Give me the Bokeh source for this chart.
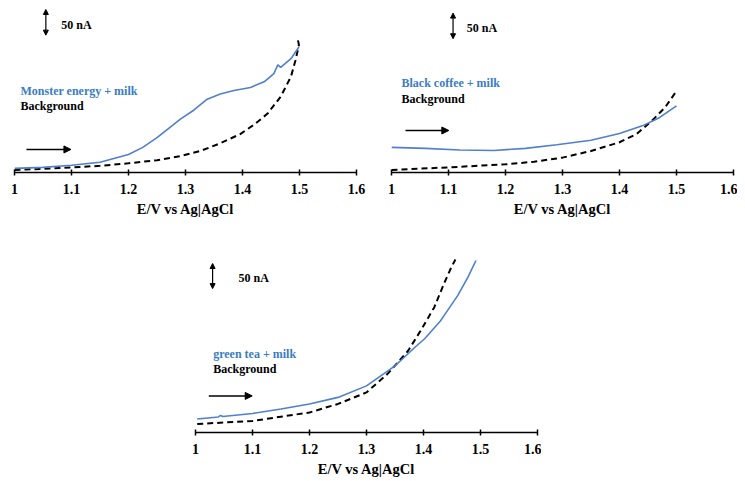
from bokeh.plotting import figure
from bokeh.layouts import column, row
from bokeh.models import Spacer, Arrow, NormalHead, Label, FixedTicker, Range1d
from bokeh.embed import file_html
from bokeh.resources import INLINE

# ---------------- data ----------------
ticks = [1.0, 1.1, 1.2, 1.3, 1.4, 1.5, 1.6]
tick_labels = ["1", "1.1", "1.2", "1.3", "1.4", "1.5", "1.6"]
x_title = "E/V vs Ag|AgCl"
scale_text = "50 nA"
scale_nA = 50
bg_name = "Background"

monster_name = "Monster energy + milk"
monster_E = [1.0, 1.05, 1.1, 1.15, 1.2, 1.225, 1.25, 1.275, 1.291, 1.315, 1.338, 1.361, 1.385,
             1.414, 1.438, 1.455, 1.462, 1.467, 1.485, 1.499]
monster_I = [8, 10, 14, 20, 35, 49, 68, 90, 104, 122, 143, 153, 160,
             166, 177, 193, 210, 205, 222, 245]
monster_bg_E = [1.0, 1.05, 1.1, 1.15, 1.2, 1.25, 1.291, 1.326, 1.361, 1.396, 1.42, 1.444,
                1.467, 1.485, 1.493, 1.499, 1.496]
monster_bg_I = [5, 7, 10, 13, 18, 24, 32, 42, 57, 75, 93, 115,
                148, 187, 219, 249, 265]

coffee_name = "Black coffee + milk"
coffee_E = [1.0, 1.06, 1.12, 1.18, 1.235, 1.29, 1.35, 1.4, 1.44, 1.47, 1.5]
coffee_I = [49, 47, 44, 43, 47, 54, 63, 76, 91, 107, 130]
coffee_bg_E = [1.0, 1.1, 1.2, 1.25, 1.3, 1.35, 1.4, 1.43, 1.457, 1.48, 1.5]
coffee_bg_I = [5, 10, 16, 21, 29, 42, 59, 75, 101, 127, 159]

tea_name = "green tea + milk"
tea_E = [1.003, 1.04, 1.044, 1.048, 1.1, 1.15, 1.2, 1.25, 1.3, 1.35, 1.385, 1.402, 1.43, 1.436,
         1.46, 1.478, 1.492]
tea_I = [27, 31, 34, 32, 38, 47, 57, 70, 93, 133, 170, 187, 223, 233, 273, 310, 343]
tea_bg_E = [1.003, 1.1, 1.2, 1.25, 1.3, 1.337, 1.373, 1.395, 1.419, 1.436, 1.449, 1.456]
tea_bg_I = [17, 23, 40, 57, 80, 117, 163, 203, 250, 297, 330, 345]

BLUE_LINE = "#4f7fcf"
BLUE_TEXT = "#3a7cc4"
FONT = "Liberation Serif"


def panel(E, I, bgE, bgI, name, y_end, frame_h, b_left, b_right, b_top, b_bottom,
          name_pos, bg_pos, arrow_pos, scale_pos, scale_label_pos):
    p = figure(frame_width=342, frame_height=frame_h, output_backend="svg",
               toolbar_location=None, y_axis_location=None,
               x_range=Range1d(1.0, 1.6), y_range=Range1d(0, y_end),
               min_border_left=b_left, min_border_right=b_right,
               min_border_top=b_top, min_border_bottom=b_bottom)
    p.outline_line_color = None
    p.grid.visible = False
    ax = p.xaxis[0]
    ax.ticker = FixedTicker(ticks=ticks, minor_ticks=[])
    ax.major_label_overrides = dict(zip(ticks, tick_labels))
    ax.major_tick_in = 3
    ax.major_tick_out = 3
    ax.major_tick_line_width = 1.5
    ax.axis_line_width = 1.5
    ax.axis_line_color = "black"
    ax.major_tick_line_color = "black"
    ax.major_label_standoff = 8
    ax.major_label_text_font = FONT
    ax.major_label_text_font_style = "bold"
    ax.major_label_text_font_size = "14px"
    ax.major_label_text_color = "black"
    ax.axis_label = x_title
    ax.axis_label_standoff = 4
    ax.axis_label_text_font = FONT
    ax.axis_label_text_font_style = "bold"
    ax.axis_label_text_font_size = "14.5px"
    ax.axis_label_text_color = "black"

    p.line(bgE, bgI, line_color="black", line_width=2, line_dash="6 4")
    p.line(E, I, line_color=BLUE_LINE, line_width=1.6)

    p.add_layout(Label(x=name_pos[0], y=name_pos[1], text=name, text_color=BLUE_TEXT,
                       text_font=FONT, text_font_style="bold", text_font_size="12px",
                       text_baseline="middle", text_align="left"))
    p.add_layout(Label(x=bg_pos[0], y=bg_pos[1], text=bg_name, text_color="black",
                       text_font=FONT, text_font_style="bold", text_font_size="12px",
                       text_baseline="middle", text_align="left"))
    p.add_layout(Arrow(x_start=arrow_pos[0], x_end=arrow_pos[1], y_start=arrow_pos[2],
                       y_end=arrow_pos[2], line_width=1.5, line_color="black",
                       end=NormalHead(size=7, fill_color="black", line_color="black")))
    p.add_layout(Arrow(x_start=scale_pos[0], x_end=scale_pos[0], y_start=scale_pos[1],
                       y_end=scale_pos[1] + scale_nA, line_width=1.2, line_color="black",
                       start=NormalHead(size=5, fill_color="black", line_color="black"),
                       end=NormalHead(size=5, fill_color="black", line_color="black")))
    p.add_layout(Label(x=scale_label_pos[0], y=scale_label_pos[1], text=scale_text,
                       text_color="black", text_font=FONT, text_font_style="bold",
                       text_font_size="12px", text_baseline="middle", text_align="left"))
    return p


p1 = panel(monster_E, monster_I, monster_bg_E, monster_bg_I, monster_name,
           320, 164, 14, 29, 8, 76,
           (1.0105, 160), (1.0105, 129), (1.021, 1.099, 45), (1.055, 268), (1.082, 287))
p2 = panel(coffee_E, coffee_I, coffee_bg_E, coffee_bg_I, coffee_name,
           320, 164, 6, 4, 8, 76,
           (1.0175, 175), (1.0175, 144), (1.0246, 1.1006, 82), (1.108, 261), (1.132, 281))
p3 = panel(tea_E, tea_I, tea_bg_E, tea_bg_I, tea_name,
           355, 178, 6, 4, 6, 46,
           (1.031, 157), (1.031, 127), (1.0233, 1.0995, 73), (1.03, 287), (1.0754, 309))

layout = column(row(p1, p2), row(Spacer(width=189, height=10), p3))

open("out.html", "w").write(file_html(layout, INLINE))
